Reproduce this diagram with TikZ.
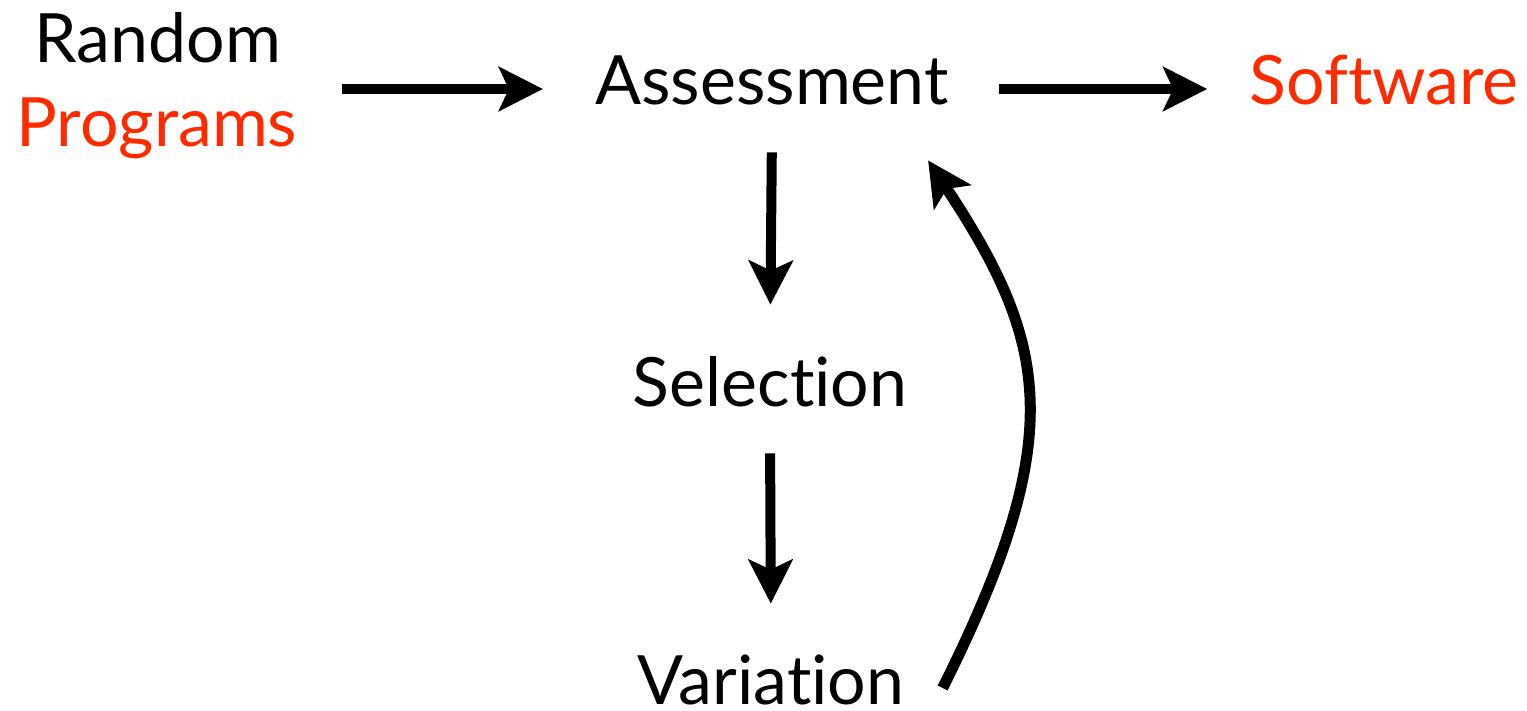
\documentclass[tikz,border=0pt]{standalone}
\usepackage{fontspec}
\setmainfont{Lato}[Ligatures={NoCommon}]
\usetikzlibrary{arrows.meta}
\definecolor{outred}{RGB}{255,42,0}
\tikzset{
  lbl/.style={inner sep=0pt, anchor=base, font=\fontsize{34}{41}\selectfont, text height=28pt, text depth=12pt},
  flow/.style={line width=5pt, -{Stealth[length=22pt, width=22pt, inset=5pt]}}
}

\begin{document}
\begin{tikzpicture}[x=0.5pt, y=-0.5pt]
		%%%%% START %%%%%
		
		\useasboundingbox (0, 0) rectangle (1527, 711);
		
		\node[lbl] (rnd) at (158, 63) {Random};
		\node[lbl, text=outred] (prg) at (157, 147) {Programs};
		\node[lbl] (asm) at (772, 105) {Assessment};
		\node[lbl, text=outred] (sw) at (1384, 105) {Software};
		\node[lbl] (sel) at (770, 407) {Selection};
		\node[lbl, text depth=2pt] (var) at (771, 704) {Variation};
		
		\draw[flow, shorten <=22pt, shorten >=26pt] (prg.east |- asm.west) -- (asm.west);
		\draw[flow, shorten <=25pt, shorten >=21pt] (asm.east) -- (sw.west);
		
		\draw[flow, shorten <=11.5pt, shorten >=23pt] (asm.south) -- (sel.north);
		\draw[flow, shorten <=11pt, shorten >=22pt] (sel.south) -- (var.north);
		
		\draw[flow, line width=5.5pt] ([shift={(38, 10)}]var.east) .. controls +(126, -252) and +(121, 183) .. ([shift={(-21, 31)}]asm.south east);
		
		%%%%% END %%%%%
\end{tikzpicture}
\end{document}
